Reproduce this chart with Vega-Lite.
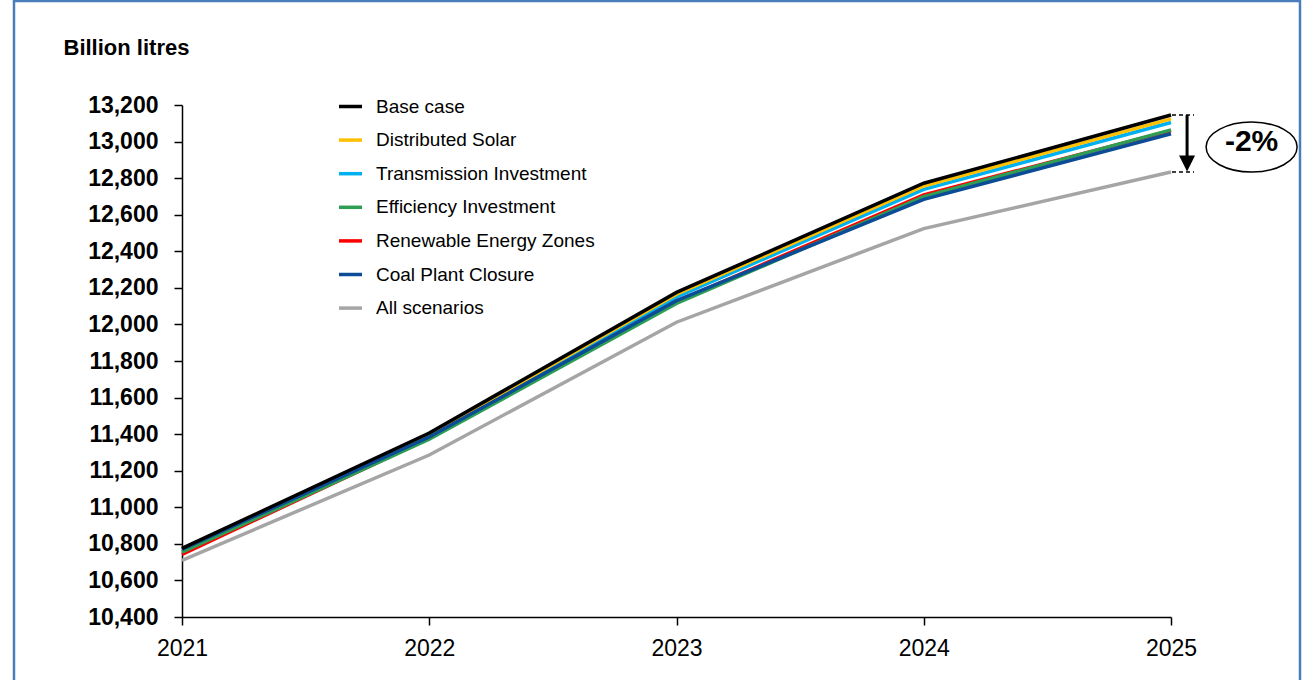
{
  "$schema": "https://vega.github.io/schema/vega-lite/v6.json",
  "width": 989,
  "height": 512,
  "autosize": "none",
  "padding": {"left": 182, "top": 105, "right": 134, "bottom": 63},
  "background": "white",
  "config": {
    "view": {"stroke": null},
    "font": "Liberation Sans",
    "axisX": {
      "grid": false, "domainColor": "#000", "domainWidth": 1.5, "tickColor": "#000", "tickWidth": 1.5, "tickSize": 8,
      "labelFontSize": 23, "labelColor": "#000", "labelPadding": 12, "labelFlush": false, "labelFont": "Liberation Sans"
    },
    "axisY": {
      "titleAngle": 0, "titleAlign": "left", "titleBaseline": "alphabetic",
      "titleX": -119, "titleY": -51, "titleFontSize": 22, "titleFontWeight": "bold", "titleColor": "#000", "titleFont": "Liberation Sans",
      "grid": false, "domainColor": "#000", "domainWidth": 1.5, "tickColor": "#000", "tickWidth": 1.5, "tickSize": 8,
      "labelFontSize": 23, "labelFontWeight": "bold", "labelColor": "#000", "labelPadding": 16, "labelFont": "Liberation Sans"
    }
  },
  "data": {
    "values": [
      {"year": 2021, "scenario": "All scenarios", "value": 10710},
      {"year": 2022, "scenario": "All scenarios", "value": 11286},
      {"year": 2023, "scenario": "All scenarios", "value": 12012},
      {"year": 2024, "scenario": "All scenarios", "value": 12524},
      {"year": 2025, "scenario": "All scenarios", "value": 12834},
      {"year": 2021, "scenario": "Renewable Energy Zones", "value": 10742},
      {"year": 2022, "scenario": "Renewable Energy Zones", "value": 11378},
      {"year": 2023, "scenario": "Renewable Energy Zones", "value": 12125},
      {"year": 2024, "scenario": "Renewable Energy Zones", "value": 12708},
      {"year": 2025, "scenario": "Renewable Energy Zones", "value": 13060},
      {"year": 2021, "scenario": "Efficiency Investment", "value": 10755},
      {"year": 2022, "scenario": "Efficiency Investment", "value": 11372},
      {"year": 2023, "scenario": "Efficiency Investment", "value": 12115},
      {"year": 2024, "scenario": "Efficiency Investment", "value": 12699},
      {"year": 2025, "scenario": "Efficiency Investment", "value": 13064},
      {"year": 2021, "scenario": "Transmission Investment", "value": 10772},
      {"year": 2022, "scenario": "Transmission Investment", "value": 11392},
      {"year": 2023, "scenario": "Transmission Investment", "value": 12150},
      {"year": 2024, "scenario": "Transmission Investment", "value": 12739},
      {"year": 2025, "scenario": "Transmission Investment", "value": 13104},
      {"year": 2021, "scenario": "Distributed Solar", "value": 10773},
      {"year": 2022, "scenario": "Distributed Solar", "value": 11398},
      {"year": 2023, "scenario": "Distributed Solar", "value": 12165},
      {"year": 2024, "scenario": "Distributed Solar", "value": 12757},
      {"year": 2025, "scenario": "Distributed Solar", "value": 13124},
      {"year": 2021, "scenario": "Coal Plant Closure", "value": 10770},
      {"year": 2022, "scenario": "Coal Plant Closure", "value": 11385},
      {"year": 2023, "scenario": "Coal Plant Closure", "value": 12130},
      {"year": 2024, "scenario": "Coal Plant Closure", "value": 12684},
      {"year": 2025, "scenario": "Coal Plant Closure", "value": 13043},
      {"year": 2021, "scenario": "Base case", "value": 10775},
      {"year": 2022, "scenario": "Base case", "value": 11406},
      {"year": 2023, "scenario": "Base case", "value": 12175},
      {"year": 2024, "scenario": "Base case", "value": 12772},
      {"year": 2025, "scenario": "Base case", "value": 13145}
    ]
  },
  "layer": [
    {
      "mark": {"type": "line", "strokeWidth": 3.5},
      "encoding": {
        "x": {
          "field": "year", "type": "quantitative",
          "scale": {"domain": [2021, 2025], "nice": false, "zero": false},
          "axis": {"values": [2021, 2022, 2023, 2024, 2025], "format": "d", "title": null}
        },
        "y": {
          "field": "value", "type": "quantitative",
          "scale": {"domain": [10400, 13200], "nice": false, "zero": false},
          "axis": {"values": [10400, 10600, 10800, 11000, 11200, 11400, 11600, 11800, 12000, 12200, 12400, 12600, 12800, 13000, 13200], "format": ",.0f", "title": "Billion litres"}
        },
        "color": {
          "field": "scenario", "type": "nominal",
          "scale": {
            "domain": ["Base case", "Distributed Solar", "Transmission Investment", "Efficiency Investment", "Renewable Energy Zones", "Coal Plant Closure", "All scenarios"],
            "range": ["#000000", "#FFC000", "#00B0F0", "#2E9E55", "#FF0000", "#0B4C96", "#A5A5A5"]
          },
          "legend": {
            "orient": "none", "legendX": 155, "legendY": -12, "title": null, "symbolType": "stroke",
            "symbolSize": 529, "symbolStrokeWidth": 3.5, "labelFontSize": 19, "labelColor": "#000",
            "labelOffset": 12, "rowPadding": 9.6, "labelFont": "Liberation Sans", "padding": 0, "labelLimit": 500
          }
        }
      }
    },
    {
      "data": {"values": [{"k": 1}]},
      "mark": {"type": "rect", "fill": null, "stroke": "#4A7EBB", "strokeWidth": 2.5},
      "encoding": {
        "x": {"datum": 2020.3205, "type": "quantitative", "axis": {"values": [2021, 2022, 2023, 2024, 2025], "format": "d", "title": null}},
        "x2": {"datum": 2025.5217},
        "y": {"datum": 13769, "type": "quantitative", "axis": {"values": [10400, 10600, 10800, 11000, 11200, 11400, 11600, 11800, 12000, 12200, 12400, 12600, 12800, 13000, 13200], "format": ",.0f", "title": "Billion litres"}},
        "y2": {"datum": 10000}
      }
    },
    {
      "data": {"values": [{"k": 1}]},
      "mark": {"type": "rule", "strokeWidth": 3, "color": "#000"},
      "encoding": {
        "x": {"datum": 2025.065, "type": "quantitative", "axis": {"values": [2021, 2022, 2023, 2024, 2025], "format": "d", "title": null}},
        "y": {"datum": 13145, "type": "quantitative", "axis": {"values": [10400, 10600, 10800, 11000, 11200, 11400, 11600, 11800, 12000, 12200, 12400, 12600, 12800, 13000, 13200], "format": ",.0f", "title": "Billion litres"}},
        "y2": {"datum": 12875}
      }
    },
    {
      "data": {"values": [{"k": 1}]},
      "mark": {"type": "point", "shape": "M -1 -1 L 1 -1 L 0 1 Z", "filled": true, "color": "#000", "size": 256, "opacity": 1},
      "encoding": {
        "x": {"datum": 2025.065, "type": "quantitative", "axis": {"values": [2021, 2022, 2023, 2024, 2025], "format": "d", "title": null}},
        "y": {"datum": 12880, "type": "quantitative", "axis": {"values": [10400, 10600, 10800, 11000, 11200, 11400, 11600, 11800, 12000, 12200, 12400, 12600, 12800, 13000, 13200], "format": ",.0f", "title": "Billion litres"}}
      }
    },
    {
      "data": {"values": [{"k": 1}]},
      "mark": {"type": "rule", "strokeWidth": 1.5, "color": "#000", "strokeDash": [4, 3]},
      "encoding": {
        "x": {"datum": 2025.004, "type": "quantitative", "axis": {"values": [2021, 2022, 2023, 2024, 2025], "format": "d", "title": null}},
        "x2": {"datum": 2025.093},
        "y": {"datum": 13145, "type": "quantitative", "axis": {"values": [10400, 10600, 10800, 11000, 11200, 11400, 11600, 11800, 12000, 12200, 12400, 12600, 12800, 13000, 13200], "format": ",.0f", "title": "Billion litres"}}
      }
    },
    {
      "data": {"values": [{"k": 1}]},
      "mark": {"type": "rule", "strokeWidth": 1.5, "color": "#000", "strokeDash": [4, 3]},
      "encoding": {
        "x": {"datum": 2025.004, "type": "quantitative", "axis": {"values": [2021, 2022, 2023, 2024, 2025], "format": "d", "title": null}},
        "x2": {"datum": 2025.093},
        "y": {"datum": 12834, "type": "quantitative", "axis": {"values": [10400, 10600, 10800, 11000, 11200, 11400, 11600, 11800, 12000, 12200, 12400, 12600, 12800, 13000, 13200], "format": ",.0f", "title": "Billion litres"}}
      }
    },
    {
      "data": {"values": [{"k": 1}]},
      "mark": {"type": "point", "shape": "M -1 0 A 1 0.55 0 1 1 1 0 A 1 0.55 0 1 1 -1 0 Z", "filled": false, "stroke": "#000", "strokeWidth": 1.5, "size": 8281, "opacity": 1},
      "encoding": {
        "x": {"datum": 2025.326, "type": "quantitative", "axis": {"values": [2021, 2022, 2023, 2024, 2025], "format": "d", "title": null}},
        "y": {"datum": 12970, "type": "quantitative", "axis": {"values": [10400, 10600, 10800, 11000, 11200, 11400, 11600, 11800, 12000, 12200, 12400, 12600, 12800, 13000, 13200], "format": ",.0f", "title": "Billion litres"}}
      }
    },
    {
      "data": {"values": [{"label": "-2%"}]},
      "mark": {"type": "text", "fontSize": 30, "fontWeight": "bold", "color": "#000", "align": "center", "baseline": "middle", "font": "Liberation Sans"},
      "encoding": {
        "x": {"datum": 2025.326, "type": "quantitative", "axis": {"values": [2021, 2022, 2023, 2024, 2025], "format": "d", "title": null}},
        "y": {"datum": 12995, "type": "quantitative", "axis": {"values": [10400, 10600, 10800, 11000, 11200, 11400, 11600, 11800, 12000, 12200, 12400, 12600, 12800, 13000, 13200], "format": ",.0f", "title": "Billion litres"}},
        "text": {"field": "label"}
      }
    }
  ]
}
